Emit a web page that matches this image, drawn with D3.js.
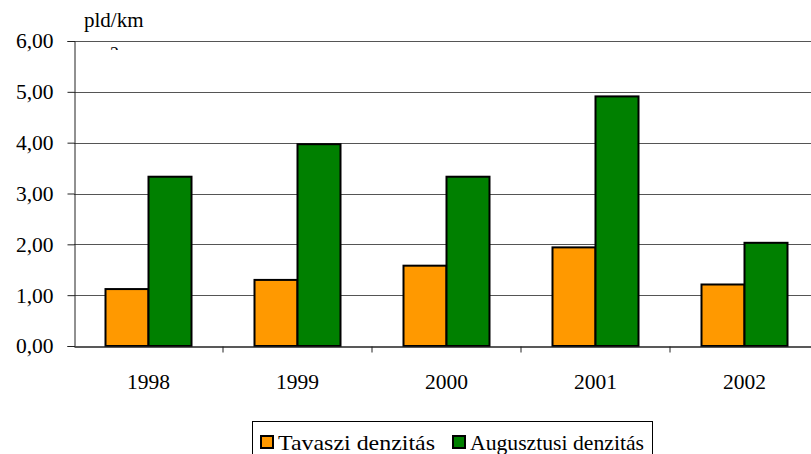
<!DOCTYPE html>
<html>
<head>
<meta charset="utf-8">
<script src="https://cdn.jsdelivr.net/npm/d3@7"></script>
<style>
body{margin:0;background:#fff;}
svg{display:block;}
svg text{font-family:"Times New Roman",Times,"Liberation Serif","DejaVu Serif",serif !important;fill:#000;}
</style>
</head>
<body>
<script>
var years = ['1998','1999','2000','2001','2002'];
var tavaszi = [1.12,1.30,1.58,1.94,1.21];
var augusztusi = [3.33,3.97,3.33,4.91,2.03];
var seriesNames = ['Tavaszi denzitás','Augusztusi denzitás'];
var seriesColors = ['#ff9900','#008000'];
var yTicks = [0,1,2,3,4,5,6];

var serif = '"Times New Roman", Times, "Liberation Serif", serif';

var svg = d3.select("body").append("svg").attr("width",811).attr("height",454);

var x = d3.scaleBand()
        .domain(years)
        .range([74, 819]);

var xInner = d3.scaleBand()
        .domain([0,1])
        .range([0, 86]);

var y = d3.scaleLinear()
        .domain([0,6])
        .range([346, 41]);

// unit label, the superscript gets cut by the plot area
svg.append("text")
        .attr("x",84).attr("y",27)
        .style("font-size","21px")
        .text("pld/km");
svg.append("clipPath").attr("id","supclip")
    .append("rect").attr("x",100).attr("y",44).attr("width",30).attr("height",6);
svg.append("text")
        .attr("x",110).attr("y",60)
        .style("font-size","18px")
        .attr("clip-path","url(#supclip)")
        .text("2");

// grid
svg.selectAll("line.grid")
    .data(yTicks.slice(1))
    .enter().append("line")
            .attr("class","grid")
            .attr("x1",74).attr("x2",819)
            .attr("y1",function(d){return Math.round(y(d))+0.5;})
            .attr("y2",function(d){return Math.round(y(d))+0.5;})
            .attr("stroke","#555")
            .attr("stroke-width",1);

// bars
var groups = svg.selectAll("g.year")
    .data(years)
    .enter().append("g")
            .attr("class","year")
            .attr("transform",function(d){return "translate("+(x(d)+x.bandwidth()/2-43)+",0)";});

groups.selectAll("rect")
    .data(function(d,i){return [tavaszi[i],augusztusi[i]];})
    .enter().append("rect")
            .attr("x",function(d,j){return xInner(j);})
            .attr("y",function(d){return y(d);})
            .attr("width",xInner.bandwidth())
            .attr("height",function(d){return y(0)-y(d);})
            .attr("fill",function(d,j){return seriesColors[j];})
            .attr("stroke","#000")
            .attr("stroke-width",2);

// y axis
var yAxis = d3.axisLeft(y)
        .tickValues(yTicks)
        .tickSize(7)
        .tickPadding(14)
        .tickFormat(function(d){return d3.format(".2f")(d).replace(".",",");});

svg.append("g")
        .attr("transform","translate(74.5,0)")
        .call(yAxis)
        .attr("font-family",serif)
        .call(function(g){
            g.selectAll("text").style("font-size","21.5px");
            g.selectAll("line,path").attr("stroke","#222");
        });

// x axis
var xAxis = d3.axisBottom(x).tickSize(0).tickPadding(27);
var xg = svg.append("g")
        .attr("transform","translate(0,346.5)")
        .call(xAxis)
        .attr("font-family",serif);
xg.selectAll("text").style("font-size","21.5px");
xg.select("path").attr("stroke","#222").attr("stroke-width",1.5);
xg.selectAll("line.sep")
    .data(years.slice(1))
    .enter().append("line")
            .attr("class","sep")
            .attr("x1",function(d){return x(d);})
            .attr("x2",function(d){return x(d);})
            .attr("y1",0).attr("y2",6)
            .attr("stroke","#222");

// legend
var legend = svg.append("g");
legend.append("rect")
        .attr("x",252.5).attr("y",421.5)
        .attr("width",400).attr("height",60)
        .attr("fill","none").attr("stroke","#000");
var legendX = [261,453];
var legendW = [157,174];
var items = legend.selectAll("g.item")
    .data(seriesNames)
    .enter().append("g")
            .attr("class","item")
            .attr("transform",function(d,i){return "translate("+legendX[i]+",0)";});
items.append("rect")
        .attr("x",0).attr("y",436)
        .attr("width",12).attr("height",12)
        .attr("fill",function(d,i){return seriesColors[i];})
        .attr("stroke","#000").attr("stroke-width",2);
items.append("text")
        .attr("x",17).attr("y",450)
        .style("font-size","21px")
        .attr("textLength",function(d,i){return legendW[i];})
        .attr("lengthAdjust","spacingAndGlyphs")
        .text(function(d){return d;});
</script>
</body>
</html>
